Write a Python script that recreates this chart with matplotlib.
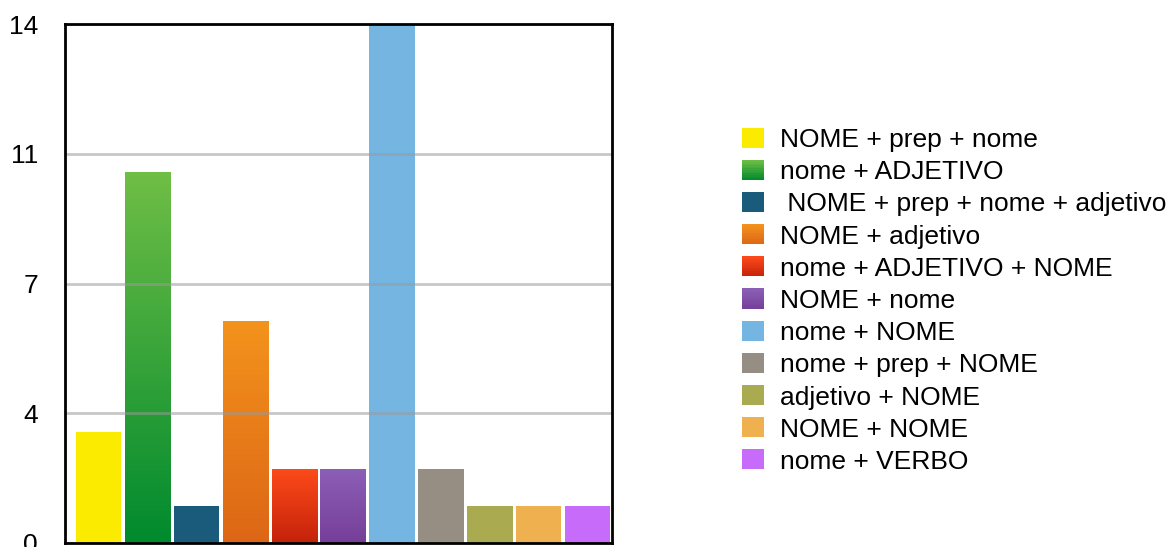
import matplotlib as mpl
mpl.use('Agg')
import matplotlib.pyplot as plt
import numpy as np
from matplotlib.patches import Patch, Rectangle
from matplotlib.colors import LinearSegmentedColormap, to_rgb
from matplotlib.legend_handler import HandlerBase

plt.rcParams['font.family'] = ['Liberation Sans', 'DejaVu Sans']

# data --------------------------------------------------------------------
labels = ['NOME + prep + nome', 'nome + ADJETIVO', ' NOME + prep + nome + adjetivo',
          'NOME + adjetivo', 'nome + ADJETIVO + NOME', 'NOME + nome', 'nome + NOME',
          'nome + prep + NOME', 'adjetivo + NOME', 'NOME + NOME', 'nome + VERBO']
values = [3, 10, 1, 6, 2, 2, 14, 2, 1, 1, 1]
# (top colour, bottom colour); same colour twice = flat fill
colours = [('#fbeb00', '#fbeb00'),
           ('#6fbe46', '#008a2e'),
           ('#1a5a7a', '#1a5a7a'),
           ('#f3931c', '#dd6616'),
           ('#fd4b1a', '#c5220a'),
           ('#8c5fb7', '#763f99'),
           ('#75b5e1', '#75b5e1'),
           ('#968d83', '#968d83'),
           ('#aaab50', '#aaab50'),
           ('#efb150', '#efb150'),
           ('#c66bfa', '#c66bfa')]
yticks = [0, 3.5, 7, 10.5, 14]
ytick_labels = ['0', '4', '7', '11', '14']


class GradHandler(HandlerBase):
    # legend square drawn as thin strips so it shows the same gradient
    def create_artists(self, legend, orig_handle, xdescent, ydescent,
                       width, height, fontsize, trans):
        top, bottom = orig_handle.grad
        top, bottom = np.array(to_rgb(top)), np.array(to_rgb(bottom))
        n = 12
        arts = []
        for k in range(n):
            f = (k + 0.5) / n
            c = bottom + (top - bottom) * f
            r = Rectangle((-xdescent, -ydescent + k * height / n), width, height / n + 0.4,
                          facecolor=c, edgecolor='none', transform=trans)
            arts.append(r)
        return arts


fig = plt.figure(figsize=(11.68, 5.47), dpi=100)
ax = fig.add_axes([65 / 1168, 4 / 547, 547 / 1168, 519 / 547])

x = np.arange(len(values))
bars = ax.bar(x, values, width=0.93, color=[c[1] for c in colours], zorder=2)

# vertical gradients, clipped to each bar
for b, (top, bottom) in zip(bars, colours):
    if top == bottom:
        continue
    cmap = LinearSegmentedColormap.from_list('g', [bottom, top])
    x0, y0 = b.get_x(), b.get_y()
    w, h = b.get_width(), b.get_height()
    im = ax.imshow(np.linspace(0, 1, 256).reshape(-1, 1), cmap=cmap, origin='lower',
                   extent=[x0, x0 + w, y0, y0 + h], aspect='auto', zorder=2.5)
    im.set_clip_path(b)

ax.set_xlim(-0.69, 10.5)
ax.set_ylim(0, 14)
ax.set_yticks(yticks)
ax.set_yticklabels(ytick_labels, fontsize=19)
ax.set_xticks([])
ax.tick_params(axis='y', length=0, pad=19.5)
ax.grid(axis='y', color='#9a9a9a', alpha=0.55, linewidth=2, zorder=3)
ax.set_axisbelow(False)
for s in ax.spines.values():
    s.set_linewidth(2)
    s.set_color('black')
    s.set_zorder(4)

handles = []
for c in colours:
    p = Patch()
    p.grad = c
    handles.append(p)
fig.legend(handles, labels, loc='center left', bbox_to_anchor=(742 / 1168, 1 - 301 / 547),
           frameon=False, fontsize=19, handlelength=0.83, handleheight=0.76,
           handletextpad=0.6, labelspacing=0.31, borderpad=0, borderaxespad=0,
           handler_map={Patch: GradHandler()})

plt.savefig('out.png', dpi=100)
